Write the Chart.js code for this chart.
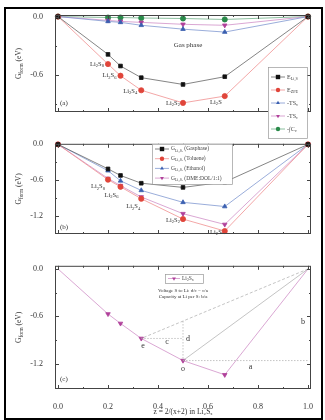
<!DOCTYPE html>
<html lang="en">
<head>
<meta charset="UTF-8">
<title>Li-S formation free energy</title>
<script src="https://cdn.jsdelivr.net/npm/chart.js"></script>
<style>
  body { margin: 0; background: #fff; width: 325px; height: 420px; overflow: hidden; position: relative; }
  #frame { position: absolute; left: 4px; top: 7px; width: 315px; height: 409px; border: 2px solid #000; }
  canvas { position: absolute; left: 0; }
</style>
</head>
<body>
<div id="frame"></div>
<canvas id="pa" width="325" height="141" style="top:0"></canvas>
<canvas id="pb" width="325" height="130" style="top:135px"></canvas>
<canvas id="pc" width="325" height="163" style="top:257px"></canvas>
<script>
// composition axis: z = 2/(x+2) for S, Li2S8, Li2S6, Li2S4, Li2S2, Li2S, Li
const zVals = [0, 0.2, 0.25, 0.333, 0.5, 0.667, 1.0];
const phaseNames = ['S', 'Li_{2}S_{8}', 'Li_{2}S_{6}', 'Li_{2}S_{4}', 'Li_{2}S_{2}', 'Li_{2}S', 'Li'];

// (a) gas phase contributions
const eLiS   = [0, -0.39, -0.51, -0.63, -0.70, -0.62, 0];
const eZpe   = [0, -0.49, -0.61, -0.76, -0.89, -0.82, 0];
const tsVib  = [0, -0.05, -0.06, -0.09, -0.13, -0.16, 0];
const tsConf = [0, -0.04, -0.05, -0.06, -0.08, -0.09, 0];
const cInt   = [0, -0.01, -0.01, -0.015, -0.02, -0.03, 0];

// (b) formation free energy in different media
const gGas = [0, -0.41, -0.52, -0.65, -0.72, -0.63, 0];
const gTol = [0, -0.59, -0.71, -0.91, -1.25, -1.45, 0];
const gEth = [0, -0.44, -0.61, -0.77, -0.97, -1.04, 0];
const gDme = [0, -0.57, -0.69, -0.88, -1.16, -1.34, 0];

// ticks
const xMajor = [0, 0.2, 0.4, 0.6, 0.8, 1.0];
const xMinor = [0.1, 0.3, 0.5, 0.7, 0.9];
const yMajorA = [0, -0.6];
const yMajorBC = [0, -0.6, -1.2];
const yMinor = [-0.3, -0.9];

const SERIF = '"Liberation Serif", "DejaVu Serif", serif';

function series(vals) {
  return zVals.map((z, i) => ({ x: z, y: vals[i] }));
}

function ds(label, vals, color, lineColor, style, rot, ends) {
  const last = vals.length - 1;
  return {
    label: label, data: series(vals),
    borderColor: lineColor, backgroundColor: color,
    pointBackgroundColor: color, pointBorderColor: color,
    pointStyle: style, pointRotation: rot || 0,
    pointRadius: c => (ends === false && (c.dataIndex === 0 || c.dataIndex === last)) ? 0 : 2.6,
    borderWidth: 0.8, showLine: true, clip: false
  };
}

function guide(points, dash) {
  return {
    label: '', data: points, borderColor: '#aaa', borderWidth: 0.7,
    borderDash: dash || [], pointRadius: 0, showLine: true, clip: false
  };
}

// text with _{sub} parts
function drawRich(ctx, str, x, y, size, align) {
  const parts = [];
  const re = /_\{([^}]*)\}/g;
  let last = 0, m;
  while ((m = re.exec(str))) {
    if (m.index > last) parts.push({ t: str.slice(last, m.index), sub: false });
    parts.push({ t: m[1], sub: true });
    last = re.lastIndex;
  }
  if (last < str.length) parts.push({ t: str.slice(last), sub: false });
  let w = 0;
  parts.forEach(p => {
    ctx.font = (p.sub ? size * 0.7 : size) + 'px ' + SERIF;
    p.w = ctx.measureText(p.t).width;
    w += p.w;
  });
  let cx = align === 'right' ? x - w : align === 'center' ? x - w / 2 : x;
  ctx.textAlign = 'left';
  ctx.textBaseline = 'middle';
  parts.forEach(p => {
    ctx.font = (p.sub ? size * 0.7 : size) + 'px ' + SERIF;
    ctx.fillText(p.t, cx, p.sub ? y + size * 0.3 : y);
    cx += p.w;
  });
}

function marker(ctx, style, rot, r, x, y) {
  ctx.beginPath();
  if (style === 'rect') {
    ctx.rect(x - r, y - r, 2 * r, 2 * r);
  } else if (style === 'triangle') {
    const s = rot ? -1 : 1;
    ctx.moveTo(x, y - s * r);
    ctx.lineTo(x + 0.87 * r, y + s * 0.5 * r);
    ctx.lineTo(x - 0.87 * r, y + s * 0.5 * r);
    ctx.closePath();
  } else {
    ctx.arc(x, y, r, 0, Math.PI * 2);
  }
  ctx.fill();
}

function decor(cfg) {
  return {
    id: 'decor',
    afterDatasetsDraw(chart) {
      const { ctx, chartArea: a } = chart;
      const x = chart.scales.x, y = chart.scales.y;
      ctx.save();
      // frame
      ctx.strokeStyle = '#444';
      ctx.lineWidth = 1;
      ctx.strokeRect(a.left + 0.5, a.top + 0.5, a.right - a.left - 1, a.bottom - a.top - 1);
      // inward ticks on all sides
      const tick = (vals, len, horiz) => vals.forEach(v => {
        ctx.beginPath();
        if (horiz) {
          const px = Math.round(x.getPixelForValue(v)) + 0.5;
          ctx.moveTo(px, a.bottom); ctx.lineTo(px, a.bottom - len);
          ctx.moveTo(px, a.top); ctx.lineTo(px, a.top + len);
        } else {
          const py = Math.round(y.getPixelForValue(v)) + 0.5;
          ctx.moveTo(a.left, py); ctx.lineTo(a.left + len, py);
          ctx.moveTo(a.right, py); ctx.lineTo(a.right - len, py);
        }
        ctx.stroke();
      });
      tick(xMajor, 4, true);
      tick(xMinor, 2, true);
      tick(cfg.yMajor, 4, false);
      tick(yMinor, 2, false);

      // y title
      ctx.fillStyle = '#333';
      ctx.save();
      ctx.translate(19, (a.top + a.bottom) / 2);
      ctx.rotate(-Math.PI / 2);
      drawRich(ctx, 'G_{form} (eV)', 0, 0, 7.5, 'center');
      ctx.restore();

      // free texts in data coords
      (cfg.texts || []).forEach(t => {
        ctx.fillStyle = t.color || '#333';
        drawRich(ctx, t.t, x.getPixelForValue(t.x), y.getPixelForValue(t.y), t.size || 7, t.align || 'center');
      });

      // phase names next to one dataset
      if (cfg.names) {
        const meta = chart.getDatasetMeta(cfg.names.ds);
        ctx.fillStyle = '#333';
        cfg.names.offsets.forEach((o, k) => {
          const el = meta.data[k + 1];
          drawRich(ctx, phaseNames[k + 1], el.x + o[0], el.y + o[1], 6.5, 'right');
        });
      }

      // legend box
      if (cfg.legend) {
        const L = cfg.legend;
        ctx.fillStyle = '#fff';
        ctx.fillRect(L.x, L.y, L.w, L.h);
        ctx.strokeStyle = '#999';
        ctx.lineWidth = 0.7;
        ctx.strokeRect(L.x + 0.5, L.y + 0.5, L.w, L.h);
        L.items.forEach((di, k) => {
          const d = chart.data.datasets[di];
          const cy = L.y + L.first + k * L.rowH;
          const x0 = L.x + 3;
          ctx.strokeStyle = d.borderColor;
          ctx.lineWidth = 0.8;
          ctx.beginPath();
          ctx.moveTo(x0, cy); ctx.lineTo(x0 + L.line, cy);
          ctx.stroke();
          ctx.fillStyle = d.pointBackgroundColor;
          marker(ctx, d.pointStyle, d.pointRotation, 2.2, x0 + L.line / 2, cy);
          ctx.fillStyle = '#444';
          drawRich(ctx, d.label, x0 + L.line + 2, cy, L.size, 'left');
        });
      }
      ctx.restore();
    }
  };
}

function yScale(min, max, majors) {
  return {
    type: 'linear', min: min, max: max,
    afterBuildTicks: s => { s.ticks = majors.map(v => ({ value: v })); },
    afterFit: s => { s.width = 55; },
    grid: { display: false }, border: { display: false },
    ticks: { padding: 4, color: '#333', font: { family: SERIF, size: 8 },
             callback: v => v.toFixed(1) }
  };
}

function xScale(show) {
  return {
    type: 'linear', min: -0.012, max: 1.012, display: show,
    afterBuildTicks: s => { s.ticks = xMajor.map(v => ({ value: v })); },
    afterFit: s => { s.height = 28; },
    grid: { display: false }, border: { display: false },
    ticks: { padding: 5, color: '#333', font: { family: SERIF, size: 8 },
             maxRotation: 0, callback: v => v.toFixed(1) },
    title: { display: true, text: 'z = 2/(x+2) in Li\u2082S\u2093', color: '#333',
             padding: { top: 0, bottom: 0 }, font: { family: SERIF, size: 7.5 } }
  };
}

const base = {
  responsive: false, animation: false, devicePixelRatio: 1,
  plugins: { legend: { display: false }, tooltip: { enabled: false } }
};

const BLACK = '#111', RED = '#e0453a', BLUE = '#3a5fb0', PINK = '#b0409a', GREEN = '#2a8a4a';

// (a)
new Chart(document.getElementById('pa'), {
  type: 'line',
  data: { datasets: [
    ds('E_{Li,S}', eLiS, BLACK, '#666', 'rect'),
    ds('E_{ZPE}', eZpe, RED, '#f09090', 'circle'),
    ds('-TS_{v}', tsVib, BLUE, '#8098d0', 'triangle'),
    ds('-TS_{c}', tsConf, PINK, '#d090c8', 'triangle', 180),
    ds('-\u222BC_{v}', cInt, GREEN, '#70b088', 'circle')
  ] },
  options: Object.assign({}, base, {
    layout: { padding: { top: 15, right: 14, bottom: 1, left: 0 } },
    scales: { x: xScale(false), y: yScale(-0.984, 0.016, yMajorA) }
  }),
  plugins: [decor({
    yMajor: yMajorA,
    texts: [
      { t: 'Gas phase', x: 0.52, y: -0.29, size: 7 },
      { t: '(a)', x: 0.008, y: -0.89, size: 7, align: 'left' }
    ],
    names: { ds: 1, offsets: [[-4, 0], [-4, 0], [-4, 1], [-3, 0], [-3, 6]] },
    legend: { x: 268, y: 67, w: 39, h: 71, first: 10, rowH: 13, line: 14, size: 6, items: [0, 1, 2, 3, 4] }
  })]
});

// (b)
new Chart(document.getElementById('pb'), {
  type: 'line',
  data: { datasets: [
    ds('G_{Li\u2082S\u2093} (Gasphase)', gGas, BLACK, '#666', 'rect'),
    ds('G_{Li\u2082S\u2093} (Toluene)', gTol, RED, '#f09090', 'circle'),
    ds('G_{Li\u2082S\u2093} (Ethanol)', gEth, BLUE, '#8098d0', 'triangle'),
    ds('G_{Li\u2082S\u2093} (DME:DOL/1:1)', gDme, PINK, '#d090c8', 'triangle', 180)
  ] },
  options: Object.assign({}, base, {
    layout: { padding: { top: 5, right: 14, bottom: 3, left: 0 } },
    scales: { x: xScale(false), y: yScale(-1.5, 0.01, yMajorBC) }
  }),
  plugins: [decor({
    yMajor: yMajorBC,
    texts: [{ t: '(b)', x: 0.008, y: -1.38, size: 7, align: 'left' }],
    names: { ds: 1, offsets: [[-3, 7], [-2, 8], [-1, 8], [-3, 1], [-3, 1]] },
    legend: { x: 152, y: 9, w: 80, h: 40, first: 5, rowH: 9.7, line: 14, size: 5.5, items: [0, 1, 2, 3] }
  })]
});

// (c) construction from the DME:DOL curve
const zA = zVals[3], zB = zVals[4];
const yOnHull = gDme[3] * (1 - zB) / (1 - zA);
new Chart(document.getElementById('pc'), {
  type: 'line',
  data: { datasets: [
    guide([{ x: 1, y: 0 }, { x: zA, y: gDme[3] }], [3, 2]),
    guide([{ x: 1, y: 0 }, { x: zB, y: gDme[4] }]),
    guide([{ x: zA, y: gDme[3] }, { x: zB, y: gDme[3] }], [1.5, 1.5]),
    guide([{ x: zB, y: yOnHull }, { x: zB, y: gDme[4] }], [1.5, 1.5]),
    guide([{ x: zB, y: gDme[4] }, { x: 1, y: gDme[4] }], [1.5, 1.5]),
    ds('Li_{2}S_{x}', gDme, PINK, '#d090c8', 'triangle', 180, false)
  ] },
  options: Object.assign({}, base, {
    layout: { padding: { top: 5, right: 14, bottom: 3, left: 0 } },
    scales: { x: xScale(true), y: yScale(-1.52, 0.04, yMajorBC) }
  }),
  plugins: [decor({
    yMajor: yMajorBC,
    texts: [
      { t: '(c)', x: 0.008, y: -1.40, size: 7, align: 'left' },
      { t: 'Voltage S to Li: d/c = c/a', x: 0.5, y: -0.27, size: 5 },
      { t: 'Capacity at Li per S: b/a', x: 0.5, y: -0.35, size: 5 },
      { t: 'e', x: 0.34, y: -0.97, size: 8 },
      { t: 'c', x: 0.436, y: -0.93, size: 8 },
      { t: 'd', x: 0.52, y: -0.89, size: 8 },
      { t: 'o', x: 0.5, y: -1.27, size: 8 },
      { t: 'a', x: 0.77, y: -1.24, size: 8 },
      { t: 'b', x: 0.98, y: -0.67, size: 8 }
    ],
    legend: { x: 165, y: 17, w: 38, h: 9, first: 4.5, rowH: 9, line: 12, size: 5.5, items: [5] }
  })]
});
</script>
</body>
</html>
